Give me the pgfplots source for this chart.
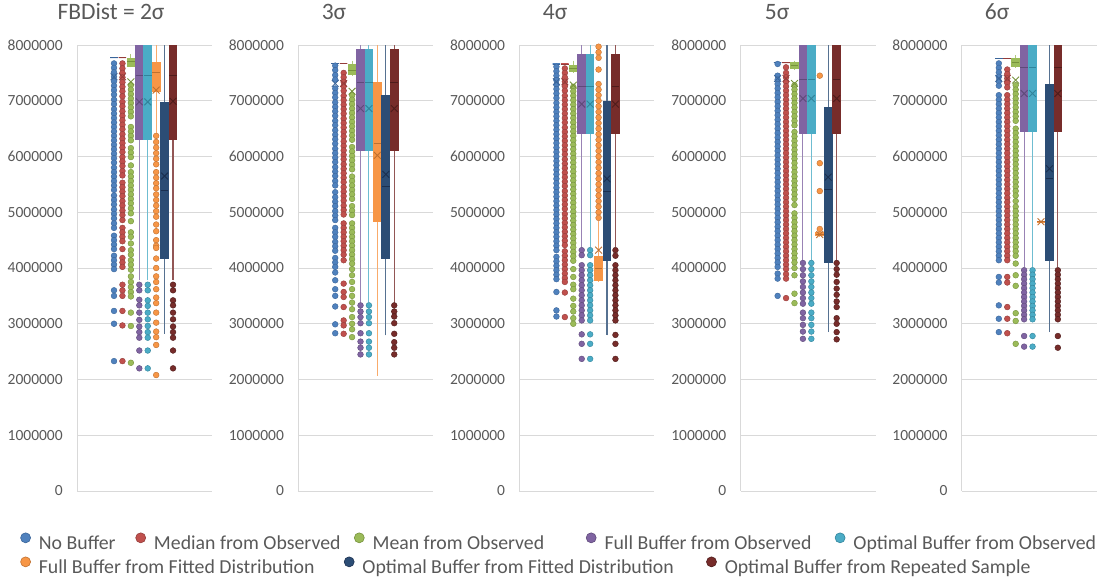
\documentclass[border=0pt]{standalone}
\usepackage{pgfplots}
\pgfplotsset{compat=1.18}
\usepgfplotslibrary{statistics}
\usepackage{fontspec}
\setmainfont{Carlito}
\definecolor{cA}{HTML}{4F81BD}\definecolor{cAD}{HTML}{3A659A}
\definecolor{cB}{HTML}{C0504D}\definecolor{cBD}{HTML}{943C3A}
\definecolor{cC}{HTML}{9BBB59}\definecolor{cCD}{HTML}{76923C}
\definecolor{cD}{HTML}{8064A2}\definecolor{cDD}{HTML}{5F4A7A}
\definecolor{cE}{HTML}{4BACC6}\definecolor{cED}{HTML}{31849B}
\definecolor{cF}{HTML}{F79646}\definecolor{cFD}{HTML}{C0702F}
\definecolor{cG}{HTML}{2C4D75}\definecolor{cGD}{HTML}{1B3050}
\definecolor{cH}{HTML}{772C2A}\definecolor{cHD}{HTML}{4F1C1B}
\definecolor{gridc}{HTML}{D9D9D9}
\definecolor{labc}{HTML}{595959}
\pgfplotsset{
 bxs/.style={draw=#1, fill=#1, line width=1.1pt, mark=*, mark size=2.9pt,
   mark options={solid, fill=#1, draw=#1D, line width=0.4pt},
   boxplot/draw direction=y,
   boxplot/box extend=0.9, boxplot/whisker extend=0,
   boxplot/every whisker/.style={draw=#1!80!white},
   boxplot/every median/.style={draw=#1D, line width=0.8pt}},
 panel/.style={scale only axis, width=135pt, height=446pt, anchor=south west,
   xmin=-3.39, xmax=12.62, ymin=0, ymax=8,
   ytick={0,1,2,3,4,5,6,7,8},
   yticklabels={0,1000000,2000000,3000000,4000000,5000000,6000000,7000000,8000000},
   axis x line=none, axis y line=left,
   axis line style={-, draw=gridc, line width=0.9pt},
   ymajorgrids, grid style={draw=gridc, line width=0.9pt},
   ytick style={draw=none},
   yticklabel style={font=\fontsize{15.5}{18}\selectfont, text=labc, inner sep=0pt, xshift=-12pt},
   title style={anchor=center, font=\fontsize{23.5}{28}\selectfont, text=labc},
   legend image code/.code={\draw[##1] (5pt,6pt) circle (5pt);},
   legend cell align=left},
}
\newcommand{\bx}[9]{%
 \addplot[boxplot prepared={draw position=#1, lower whisker=#3, lower quartile=#4, median=#5, upper quartile=#6, upper whisker=#7}, bxs=#2] table[row sep=\\,y index=0]{d\\#9};
 \addplot[only marks, mark=x, mark size=4.8pt, color=#2D, line width=0.9pt] coordinates {(#1,#8)};
}
\newcommand{\bxn}[8]{%
 \addplot[boxplot prepared={draw position=#1, lower whisker=#3, lower quartile=#4, median=#5, upper quartile=#6, upper whisker=#7}, bxs=#2] coordinates {};
 \addplot[only marks, mark=x, mark size=4.8pt, color=#2D, line width=0.9pt] coordinates {(#1,#8)};
}
\begin{document}
\begin{tikzpicture}
\useasboundingbox (0,0) rectangle (1102pt,-579pt);
% ---------------- Panel 1 : 2 sigma
\begin{axis}[panel, at={(77pt,-491pt)}, title={FBDist = 2σ}, title style={at={(0.252,1.0608)}},
 legend columns=5,
 legend style={at={(-0.4215,-0.1143)}, anchor=west, draw=none, fill=none, inner sep=0pt, column sep=0pt,
   nodes={inner sep=0pt}, font=\fontsize{19.8}{24}\selectfont, text=labc,
   /tikz/every odd column/.style={column sep=8pt}}]
\addlegendimage{fill=cA, draw=cAD, line width=0.6pt}
\addlegendimage{fill=cB, draw=cBD, line width=0.6pt}
\addlegendimage{fill=cC, draw=cCD, line width=0.6pt}
\addlegendimage{fill=cD, draw=cDD, line width=0.6pt}
\addlegendimage{fill=cE, draw=cED, line width=0.6pt}
\legend{\makebox[96.5pt][l]{No Buffer},\makebox[200pt][l]{Median from Observed},\makebox[213.3pt][l]{Mean from Observed},\makebox[230.3pt][l]{Full Buffer from Observed},Optimal Buffer from Observed}
\bx{1}{cA}{7.77}{7.77}{7.77}{7.77}{7.78}{7.43}{7.67\\7.59\\7.51\\7.43\\7.35\\7.27\\7.19\\7.11\\7.02\\6.94\\6.85\\6.77\\6.69\\6.61\\6.53\\6.45\\6.37\\6.29\\6.21\\6.13\\6.05\\5.97\\5.89\\5.80\\5.72\\5.64\\5.56\\5.48\\5.40\\5.30\\5.22\\5.14\\5.05\\4.97\\4.89\\4.80\\4.72\\4.58\\4.50\\4.42\\4.34\\4.22\\4.14\\4.06\\3.98\\3.60\\3.50\\3.23\\3.00\\2.33\\}
\bx{2}{cB}{7.77}{7.77}{7.77}{7.77}{7.78}{7.43}{7.67\\7.58\\7.50\\7.42\\7.33\\7.25\\7.17\\7.08\\6.98\\6.90\\6.81\\6.73\\6.65\\6.57\\6.49\\6.40\\6.32\\6.24\\6.16\\6.08\\5.99\\5.91\\5.83\\5.74\\5.66\\5.53\\5.45\\5.37\\5.29\\5.20\\5.12\\5.03\\4.95\\4.86\\4.72\\4.64\\4.56\\4.48\\4.34\\4.18\\4.10\\4.02\\3.70\\3.60\\3.50\\3.23\\2.97\\2.33\\}
\bx{3}{cC}{7.60}{7.62}{7.70}{7.76}{7.83}{7.34}{7.28\\7.20\\7.12\\7.04\\6.96\\6.88\\6.80\\6.72\\6.53\\6.45\\6.37\\6.29\\6.15\\6.07\\5.99\\5.84\\5.72\\5.64\\5.56\\5.48\\5.40\\5.32\\5.24\\5.16\\5.07\\4.98\\4.84\\4.64\\4.56\\4.44\\4.32\\4.24\\4.14\\4.06\\3.97\\3.85\\3.75\\3.66\\3.57\\3.49\\3.20\\2.96\\2.30\\}
\bx{4}{cD}{3.78}{6.31}{7.45}{8.2}{8.5}{6.98}{3.70\\3.60\\3.43\\3.33\\3.20\\3.07\\2.95\\2.85\\2.75\\2.52\\2.20\\}
\bx{5}{cE}{3.78}{6.31}{7.45}{8.2}{8.5}{6.98}{3.70\\3.60\\3.42\\3.32\\3.20\\3.08\\2.96\\2.85\\2.75\\2.52\\2.20\\}
\bx{6}{cF}{6.41}{7.17}{7.51}{7.68}{8.5}{7.19}{6.37\\6.26\\6.16\\6.06\\5.96\\5.86\\5.72\\5.62\\5.52\\5.43\\5.32\\5.22\\5.12\\5.02\\4.92\\4.78\\4.66\\4.50\\4.40\\4.36\\4.17\\4.00\\3.85\\3.75\\3.62\\3.47\\3.37\\3.20\\3.02\\2.86\\2.76\\2.62\\2.08\\}
\bxn{7}{cG}{2.82}{4.17}{5.40}{6.96}{8.5}{5.65}
\bx{8}{cH}{3.78}{6.31}{7.45}{8.2}{8.5}{6.99}{3.70\\3.60\\3.42\\3.33\\3.20\\3.08\\2.95\\2.85\\2.75\\2.52\\2.20\\}
\end{axis}
% ---------------- Panel 2 : 3 sigma
\begin{axis}[panel, at={(298.2pt,-491pt)}, title={3σ}, title style={at={(0.265,1.0608)}},
 legend columns=3,
 legend style={at={(-2.06,-0.1682)}, anchor=west, draw=none, fill=none, inner sep=0pt, column sep=0pt,
   nodes={inner sep=0pt}, font=\fontsize{19.8}{24}\selectfont, text=labc,
   /tikz/every odd column/.style={column sep=8pt}}]
\addlegendimage{fill=cF, draw=cFD, line width=0.6pt}
\addlegendimage{fill=cG, draw=cGD, line width=0.6pt}
\addlegendimage{fill=cH, draw=cHD, line width=0.6pt}
\legend{\makebox[305pt][l]{Full Buffer from Fitted Distribution},\makebox[343.7pt][l]{Optimal Buffer from Fitted Distribution},Optimal Buffer from Repeated Sample}
\bx{1}{cA}{7.67}{7.67}{7.67}{7.67}{7.68}{7.31}{7.63\\7.55\\7.46\\7.38\\7.22\\7.14\\7.06\\6.97\\6.89\\6.81\\6.73\\6.64\\6.56\\6.47\\6.39\\6.31\\6.23\\6.14\\6.06\\5.98\\5.90\\5.81\\5.73\\5.65\\5.56\\5.48\\5.36\\5.27\\5.19\\5.11\\5.02\\4.94\\4.86\\4.72\\4.64\\4.56\\4.47\\4.39\\4.31\\4.18\\4.10\\4.02\\3.92\\3.78\\3.62\\3.50\\3.31\\2.99\\2.83\\}
\bx{2}{cB}{7.67}{7.67}{7.67}{7.67}{7.68}{7.31}{7.50\\7.42\\7.34\\7.26\\7.18\\7.09\\7.01\\6.93\\6.85\\6.77\\6.68\\6.60\\6.52\\6.44\\6.36\\6.27\\6.19\\6.11\\6.03\\5.95\\5.86\\5.78\\5.70\\5.62\\5.54\\5.45\\5.37\\5.29\\5.21\\5.12\\5.04\\4.96\\4.80\\4.72\\4.64\\4.56\\4.48\\4.40\\4.32\\4.24\\4.14\\3.72\\3.57\\3.48\\3.30\\3.06\\2.97\\2.82\\}
\bx{3}{cC}{7.45}{7.47}{7.55}{7.65}{7.72}{7.17}{7.10\\7.02\\6.94\\6.86\\6.78\\6.70\\6.62\\6.54\\6.46\\6.38\\6.30\\6.17\\6.09\\6.01\\5.93\\5.85\\5.77\\5.64\\5.56\\5.48\\5.40\\5.32\\5.24\\5.11\\5.03\\4.95\\4.80\\4.72\\4.64\\4.56\\4.48\\4.40\\4.32\\4.24\\4.16\\4.08\\3.98\\3.87\\3.75\\3.62\\3.50\\3.38\\3.26\\3.12\\3.00\\2.90\\2.76\\}
\bx{4}{cD}{3.39}{6.10}{7.33}{7.91}{8.5}{6.86}{3.33\\3.22\\3.12\\3.01\\2.83\\2.68\\2.57\\2.45\\}
\bx{5}{cE}{3.39}{6.10}{7.33}{7.91}{8.5}{6.86}{3.33\\3.22\\3.12\\3.01\\2.83\\2.68\\2.57\\2.45\\}
\bxn{6}{cF}{2.07}{4.83}{6.23}{7.32}{8.5}{6.02}
\bxn{7}{cG}{2.79}{4.18}{5.47}{7.10}{8.5}{5.68}
\bx{8}{cH}{3.39}{6.10}{7.33}{7.91}{8.5}{6.86}{3.33\\3.22\\3.13\\3.01\\2.82\\2.67\\2.57\\2.45\\}
\end{axis}
% ---------------- Panel 3 : 4 sigma
\begin{axis}[panel, at={(519.4pt,-491pt)}, title={4σ}, title style={at={(0.264,1.0608)}}]
\bx{1}{cA}{7.66}{7.66}{7.66}{7.66}{7.67}{7.34}{7.61\\7.53\\7.45\\7.37\\7.29\\7.21\\7.13\\7.05\\6.96\\6.88\\6.80\\6.72\\6.64\\6.56\\6.48\\6.40\\6.32\\6.24\\6.16\\6.08\\6.00\\5.92\\5.84\\5.76\\5.68\\5.60\\5.52\\5.44\\5.36\\5.28\\5.20\\5.12\\5.04\\4.96\\4.88\\4.80\\4.72\\4.64\\4.56\\4.48\\4.40\\4.32\\4.20\\4.12\\4.04\\3.96\\3.88\\3.80\\3.57\\3.24\\3.13\\}
\bx{2}{cB}{7.66}{7.66}{7.66}{7.66}{7.67}{7.34}{7.58\\7.50\\7.42\\7.34\\7.26\\7.18\\7.09\\7.01\\6.93\\6.85\\6.77\\6.69\\6.61\\6.52\\6.44\\6.36\\6.28\\6.20\\6.12\\6.04\\5.95\\5.87\\5.79\\5.71\\5.63\\5.55\\5.47\\5.38\\5.30\\5.22\\5.14\\5.06\\4.97\\4.89\\4.81\\4.73\\4.65\\4.57\\4.49\\4.41\\4.30\\4.22\\4.14\\4.06\\3.98\\3.90\\3.82\\3.75\\3.56\\3.12\\}
\bx{3}{cC}{7.50}{7.52}{7.58}{7.64}{7.72}{7.28}{7.25\\7.17\\7.09\\7.01\\6.93\\6.85\\6.77\\6.69\\6.61\\6.53\\6.45\\6.37\\6.29\\6.21\\6.13\\6.05\\5.97\\5.89\\5.81\\5.73\\5.65\\5.57\\5.49\\5.41\\5.33\\5.25\\5.17\\5.09\\5.01\\4.93\\4.85\\4.77\\4.69\\4.61\\4.53\\4.45\\4.37\\4.29\\4.21\\4.13\\3.98\\3.84\\3.70\\3.62\\3.45\\3.32\\3.22\\3.10\\3.00\\}
\bx{4}{cD}{4.38}{6.41}{7.25}{7.83}{8.5}{6.94}{4.32\\4.23\\4.05\\3.96\\3.87\\3.78\\3.69\\3.60\\3.51\\3.42\\3.33\\3.24\\3.15\\3.06\\2.81\\2.64\\2.37\\}
\bx{5}{cE}{4.38}{6.41}{7.25}{7.83}{8.5}{6.94}{4.32\\4.23\\4.05\\3.96\\3.87\\3.78\\3.69\\3.60\\3.51\\3.42\\3.33\\3.24\\3.15\\3.06\\2.81\\2.64\\2.37\\}
\bx{6}{cF}{3.76}{3.77}{4.00}{4.20}{4.85}{4.32}{7.97\\7.87\\7.77\\7.56\\7.30\\7.20\\7.10\\7.00\\6.90\\6.80\\6.70\\6.60\\6.50\\6.40\\6.30\\6.20\\6.10\\6.00\\5.90\\5.80\\5.70\\5.60\\5.50\\5.40\\5.30\\5.20\\5.10\\5.00\\4.90\\}
\bxn{7}{cG}{2.79}{4.13}{5.37}{6.99}{8.5}{5.60}
\bx{8}{cH}{4.38}{6.41}{7.25}{7.83}{8.5}{6.94}{4.32\\4.22\\4.05\\3.96\\3.87\\3.78\\3.69\\3.60\\3.51\\3.42\\3.33\\3.24\\3.15\\3.06\\2.80\\2.64\\2.37\\}
\end{axis}
% ---------------- Panel 4 : 5 sigma
\begin{axis}[panel, at={(740.6pt,-491pt)}, title={5σ}, title style={at={(0.27,1.0608)}}]
\bx{1}{cA}{7.68}{7.68}{7.68}{7.68}{7.69}{7.40}{7.66\\7.45\\7.38\\7.30\\7.22\\7.14\\7.06\\6.98\\6.90\\6.82\\6.74\\6.66\\6.58\\6.50\\6.42\\6.34\\6.26\\6.18\\6.10\\6.02\\5.94\\5.86\\5.78\\5.70\\5.62\\5.54\\5.46\\5.38\\5.30\\5.22\\5.14\\5.06\\4.98\\4.90\\4.82\\4.74\\4.66\\4.58\\4.50\\4.42\\4.34\\4.26\\4.18\\4.10\\4.02\\3.90\\3.81\\3.50\\}
\bx{2}{cB}{7.68}{7.68}{7.68}{7.68}{7.69}{7.40}{7.60\\7.50\\7.42\\7.34\\7.26\\7.18\\7.10\\7.02\\6.94\\6.86\\6.78\\6.70\\6.62\\6.54\\6.46\\6.38\\6.30\\6.22\\6.14\\6.06\\5.98\\5.90\\5.82\\5.74\\5.66\\5.58\\5.50\\5.42\\5.34\\5.26\\5.18\\5.10\\5.02\\4.94\\4.86\\4.78\\4.70\\4.62\\4.54\\4.46\\4.38\\4.30\\4.22\\4.14\\4.06\\3.98\\3.89\\3.81\\3.46\\}
\bx{3}{cC}{7.56}{7.58}{7.63}{7.68}{7.72}{7.31}{7.28\\7.20\\7.12\\7.04\\6.96\\6.88\\6.80\\6.72\\6.64\\6.56\\6.44\\6.36\\6.28\\6.20\\6.12\\6.04\\5.96\\5.88\\5.80\\5.72\\5.64\\5.56\\5.48\\5.40\\5.32\\5.24\\5.13\\4.98\\4.90\\4.82\\4.74\\4.66\\4.58\\4.50\\4.42\\4.34\\4.26\\4.18\\4.10\\4.00\\3.87\\3.54\\3.37\\}
\bx{4}{cD}{4.10}{6.42}{7.38}{8.2}{8.5}{7.04}{4.09\\3.98\\3.87\\3.76\\3.66\\3.56\\3.46\\3.36\\3.20\\3.10\\2.98\\2.86\\2.73\\}
\bx{5}{cE}{4.10}{6.42}{7.38}{8.2}{8.5}{7.04}{4.09\\3.98\\3.87\\3.76\\3.66\\3.56\\3.46\\3.36\\3.20\\3.10\\2.98\\2.86\\2.73\\}
\bx{6}{cF}{4.56}{4.58}{4.60}{4.63}{4.66}{4.60}{7.45\\5.88\\5.38\\4.70\\}
\bxn{7}{cG}{2.85}{4.10}{5.41}{6.88}{8.5}{5.63}
\bx{8}{cH}{4.10}{6.42}{7.38}{8.2}{8.5}{7.04}{4.09\\3.98\\3.88\\3.75\\3.63\\3.52\\3.40\\3.30\\3.10\\3.00\\2.85\\2.72\\}
\end{axis}
% ---------------- Panel 5 : 6 sigma
\begin{axis}[panel, at={(961.8pt,-491pt)}, title={6σ}, title style={at={(0.261,1.0608)}}]
\bx{1}{cA}{7.76}{7.76}{7.76}{7.76}{7.77}{7.40}{7.67\\7.59\\7.51\\7.43\\7.35\\7.27\\7.10\\7.02\\6.94\\6.86\\6.78\\6.70\\6.62\\6.54\\6.46\\6.38\\6.30\\6.22\\6.14\\6.06\\5.98\\5.90\\5.82\\5.74\\5.66\\5.58\\5.50\\5.42\\5.34\\5.26\\5.18\\5.10\\5.02\\4.94\\4.86\\4.78\\4.70\\4.62\\4.54\\4.46\\4.38\\4.30\\4.22\\4.14\\3.84\\3.74\\3.33\\3.09\\2.85\\}
\bx{2}{cB}{7.76}{7.76}{7.76}{7.76}{7.77}{7.40}{7.56\\7.48\\7.40\\7.32\\7.24\\7.10\\7.02\\6.94\\6.86\\6.78\\6.70\\6.62\\6.54\\6.46\\6.38\\6.30\\6.22\\6.14\\6.06\\5.98\\5.90\\5.82\\5.74\\5.66\\5.58\\5.50\\5.42\\5.34\\5.26\\5.18\\5.10\\5.02\\4.94\\4.86\\4.78\\4.70\\4.62\\4.54\\4.46\\4.38\\4.30\\4.22\\4.14\\3.84\\3.74\\3.30\\3.09\\2.83\\}
\bx{3}{cC}{7.59}{7.61}{7.68}{7.76}{7.82}{7.37}{7.28\\7.20\\7.12\\7.04\\6.96\\6.88\\6.80\\6.72\\6.64\\6.50\\6.42\\6.34\\6.26\\6.18\\6.10\\6.02\\5.94\\5.86\\5.78\\5.70\\5.62\\5.54\\5.46\\5.38\\5.30\\5.20\\5.10\\5.02\\4.94\\4.86\\4.78\\4.70\\4.62\\4.54\\4.46\\4.38\\4.30\\4.22\\4.08\\3.87\\3.68\\3.19\\3.05\\2.64\\}
\bx{4}{cD}{4.02}{6.45}{7.60}{8.2}{8.5}{7.13}{3.96\\3.88\\3.80\\3.72\\3.64\\3.56\\3.48\\3.40\\3.32\\3.24\\3.16\\3.08\\2.78\\2.59\\}
\bx{5}{cE}{4.02}{6.45}{7.60}{8.2}{8.5}{7.13}{3.96\\3.88\\3.80\\3.72\\3.64\\3.56\\3.48\\3.40\\3.32\\3.24\\3.16\\3.08\\2.78\\2.59\\}
\bxn{6}{cF}{4.81}{4.82}{4.83}{4.84}{4.85}{4.83}
\bxn{7}{cG}{2.85}{4.14}{5.60}{7.29}{8.5}{5.78}
\bx{8}{cH}{4.02}{6.45}{7.60}{8.2}{8.5}{7.13}{3.96\\3.88\\3.80\\3.72\\3.64\\3.56\\3.48\\3.40\\3.32\\3.24\\3.16\\3.08\\2.78\\2.57\\}
\end{axis}
\end{tikzpicture}
\end{document}
